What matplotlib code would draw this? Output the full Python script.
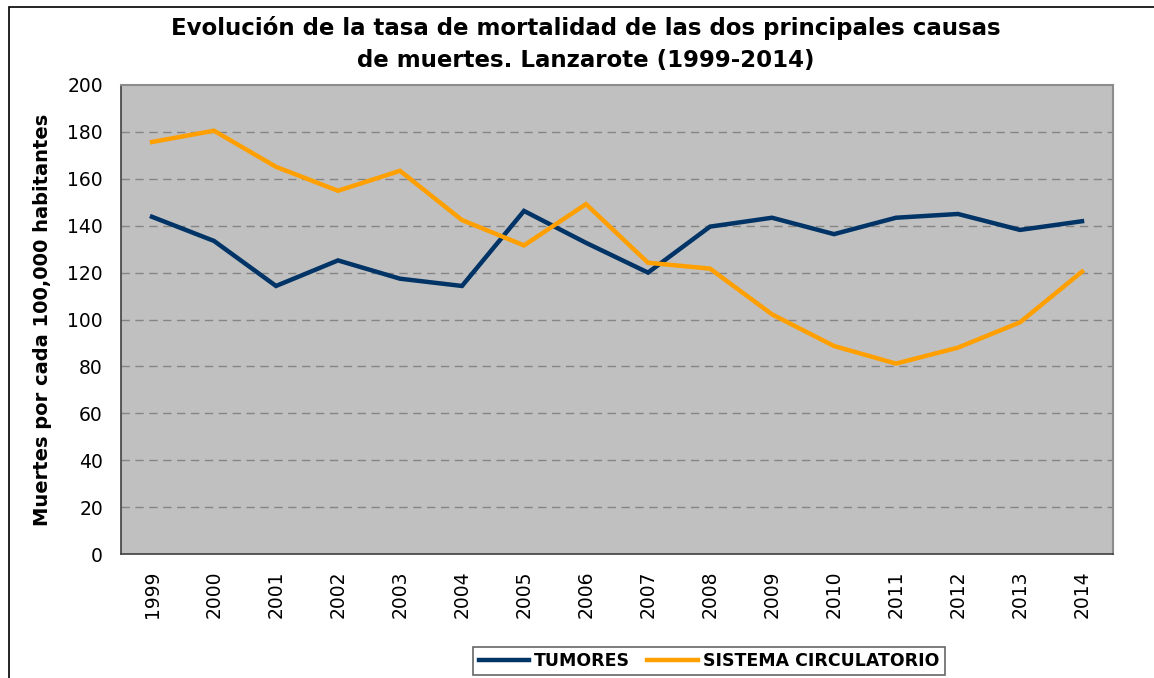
import matplotlib
matplotlib.use("Agg")
import matplotlib.pyplot as plt
from matplotlib.patches import Rectangle

years = ["1999", "2000", "2001", "2002", "2003", "2004", "2005", "2006",
         "2007", "2008", "2009", "2010", "2011", "2012", "2013", "2014"]
tumores = [143.8, 133.5, 114.3, 125.2, 117.4, 114.3, 146.3, 132.7,
           120.0, 139.6, 143.4, 136.4, 143.4, 145.0, 138.2, 141.9]
circulatorio = [175.7, 180.5, 165.1, 154.9, 163.4, 142.4, 131.6, 149.2,
                124.2, 121.7, 102.2, 88.7, 81.2, 88.0, 98.8, 120.4]
yticks = list(range(0, 201, 20))

plt.rcParams['font.family'] = ['DejaVu Sans']

W, H = 1154, 678
fig = plt.figure(figsize=(W / 100, H / 100), dpi=100)
fig.patch.set_facecolor("white")

# outer chart border
fig.patches.append(Rectangle((9 / W, -0.05), 1.2, (H - 7) / H + 0.05,
                             transform=fig.transFigure, fill=False,
                             edgecolor="black", linewidth=1.2))

ax = fig.add_axes([121 / W, (H - 554) / H, (1113 - 121) / W, (554 - 85) / H])
ax.set_facecolor("#C0C0C0")

x = list(range(len(years)))
ax.plot(x, tumores, color="#003366", linewidth=3.2, label="TUMORES", solid_joinstyle="miter")
ax.plot(x, circulatorio, color="#FF9F00", linewidth=3.2, label="SISTEMA CIRCULATORIO", solid_joinstyle="miter")

ax.set_xlim(-0.5, len(years) - 0.5)
ax.set_ylim(0, 200)
ax.set_yticks(yticks)
ax.set_yticklabels([str(v) for v in yticks], fontsize=13.5)
ax.set_xticks(x)
ax.set_xticklabels(years, rotation=90, fontsize=13.5)
ax.tick_params(axis="y", length=0, pad=13)
ax.tick_params(axis="x", length=0, pad=12)

for v in yticks[1:-1]:
    ax.axhline(v, color="#858585", linewidth=1.0, linestyle=(0, (6, 4)), zorder=1)

for side in ["left", "bottom"]:
    ax.spines[side].set_color("#404040")
    ax.spines[side].set_linewidth(1.2)
for side in ["top", "right"]:
    ax.spines[side].set_color("#8C8C8C")
    ax.spines[side].set_linewidth(1.5)

ax.set_ylabel("Muertes por cada 100,000 habitantes", fontsize=14,
              fontweight="bold", labelpad=11)

fig.text(0.5 * (148 + 1024) / W, (H - 44) / H,
         "Evolución de la tasa de mortalidad de las dos principales causas\nde muertes. Lanzarote (1999-2014)",
         ha="center", va="center", fontsize=16.5, fontweight="bold",
         linespacing=1.5)

leg = fig.legend(loc="center", bbox_to_anchor=(709 / W, (H - 661) / H),
                 ncol=2, frameon=True, fancybox=False,
                 prop={"weight": "bold", "size": 12.5},
                 handlelength=2.9, handletextpad=0.3, columnspacing=1.0,
                 borderpad=0.3, borderaxespad=0)
leg.get_frame().set_edgecolor("#404040")
leg.get_frame().set_linewidth(1.2)

fig.savefig("out.png", dpi=100)
